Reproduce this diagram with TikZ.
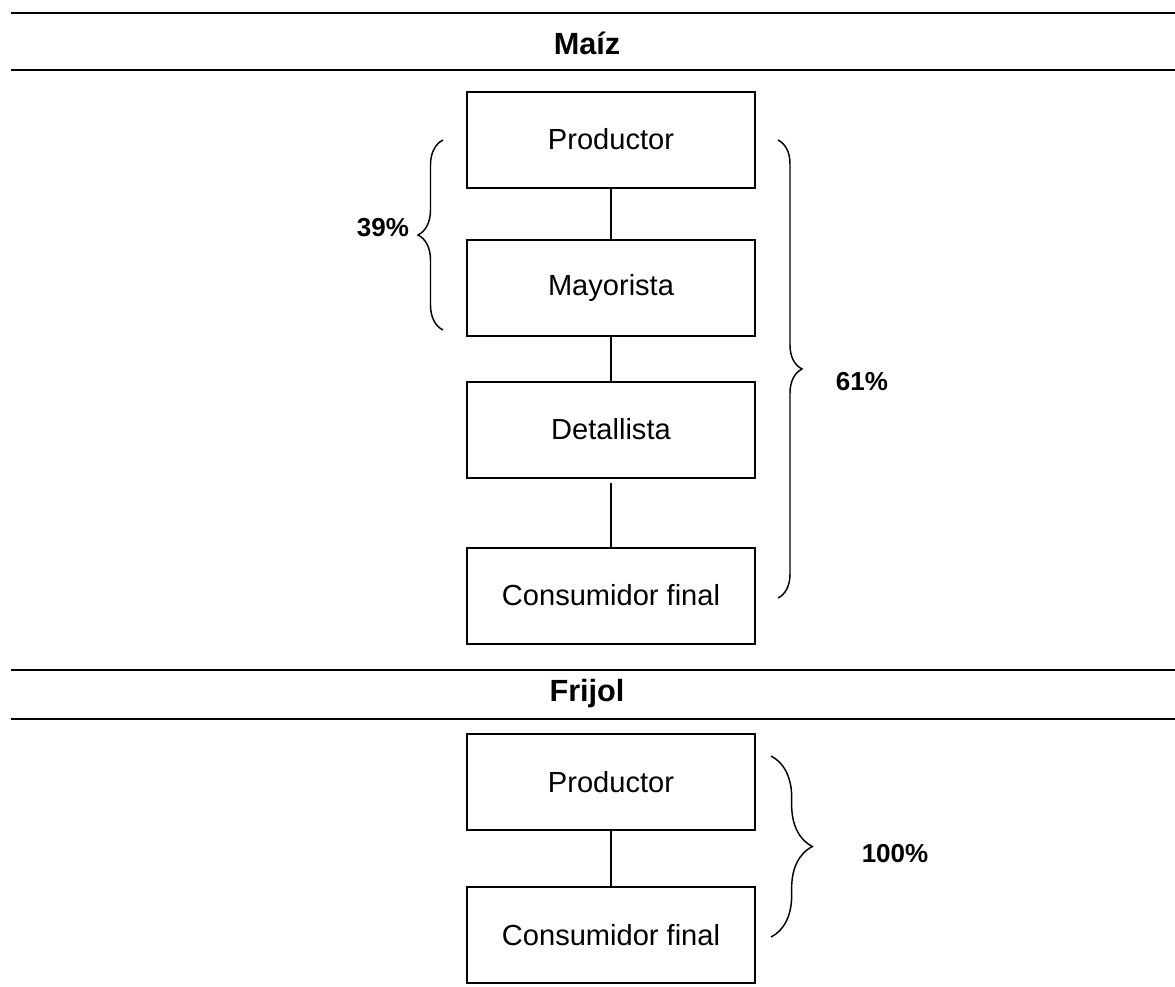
\documentclass[tikz,border=0pt]{standalone}
\usepackage{fontspec}
\setmainfont{Liberation Sans}
\usetikzlibrary{positioning}
\usetikzlibrary{decorations.pathreplacing}

\begin{document}
\begin{tikzpicture}[x=0.75pt,y=-0.75pt,
	caja/.style={minimum width=216pt,minimum height=72pt,outer sep=0pt,draw=black,line width=1.5pt,font=\fontsize{21.8}{26}\selectfont},
	titulo/.style={font=\fontsize{23}{27}\selectfont\bfseries},
	pct/.style={font=\fontsize{19.5}{24}\selectfont\bfseries},
	regla/.style={line width=1.6pt},
	conector/.style={line width=1.1pt},
	llave/.style={decorate,decoration={brace,amplitude=#1},line width=1.1pt}]
	\useasboundingbox (0,0) rectangle (1175,986);

	\draw [regla] (11,13) -- (1175,13);
	\node [titulo] at (587,43) (maiz_txt) {Maíz};
	\draw [regla] (11,70) -- (1175,70);

	\node [caja] at (611,139.5) (prod_m) {Productor};
	\node [caja,below=39pt of prod_m] (may_m) {Mayorista};
	\node [caja,below=34.5pt of may_m] (det_m) {Detallista};
	\node [caja,below=52.5pt of det_m] (cons_m) {Consumidor final};
	\draw [conector] (prod_m) -- (may_m);
	\draw [conector] (may_m) -- (det_m);
	\draw [conector] ([yshift=-4pt]det_m.south) -- (cons_m);

	\draw [llave=18.75pt] (443,330) -- (443,140);
	\node [pct] at (383,228) (p39) {39\%};
	\draw [llave=18pt] (778,140) -- (778,598);
	\node [pct] at (862,382) (p61) {61\%};

	\draw [regla] (11,670) -- (1175,670);
	\node [titulo] at (587,694) (frijol_txt) {Frijol};
	\draw [regla] (11,719) -- (1175,719);

	\node [caja] at (611,782) (prod_f) {Productor};
	\node [caja,below=42.75pt of prod_f] (cons_f) {Consumidor final};
	\draw [conector] (prod_f) -- (cons_f);

	\draw [llave=31pt] (771,756) -- (771,937);
	\node [pct] at (895,854) (p100) {100\%};
\end{tikzpicture}
\end{document}
